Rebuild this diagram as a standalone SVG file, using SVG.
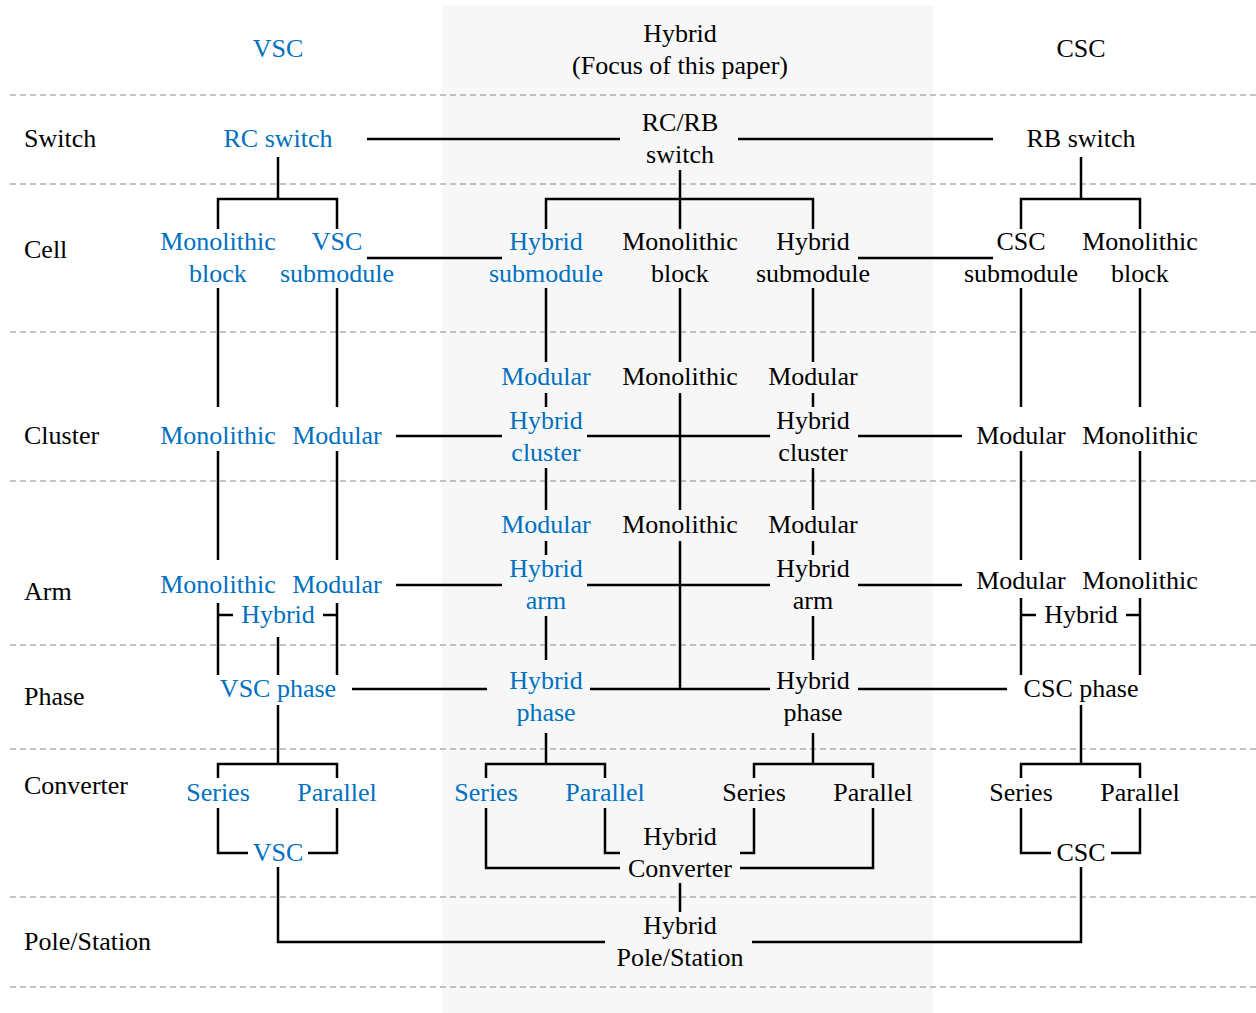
<svg xmlns="http://www.w3.org/2000/svg" width="1256" height="1013" viewBox="0 0 1256 1013">
<style>
text{font-family:"Liberation Serif","Times New Roman",serif;font-size:26px;fill:#000;text-anchor:middle}
text.b{fill:#0070C0}
text.row{text-anchor:start}
.sep{stroke:#888;stroke-width:1.2;stroke-dasharray:6 4;fill:none}
.c{stroke:#000;stroke-width:2.5;fill:none;stroke-linecap:butt}
</style>
<rect x="0" y="0" width="1256" height="1013" fill="#fff"/>
<rect x="442" y="5" width="491" height="1008" fill="#f7f7f7"/>
<g id="separators">
<path class="sep" d="M10,95H1256M10,184H1256M10,332H1256M10,481H1256M10,645H1256M10,749H1256M10,897H1256M10,987H1256"/>
</g>
<g id="headers">
<text class="b" x="278" y="57">VSC</text>
<text x="680" y="42">Hybrid</text>
<text x="680" y="74">(Focus of this paper)</text>
<text x="1081" y="57">CSC</text>
</g>
<g id="row-labels">
<text class="row" x="24" y="147">Switch</text>
<text class="row" x="24" y="258">Cell</text>
<text class="row" x="24" y="444">Cluster</text>
<text class="row" x="24" y="600">Arm</text>
<text class="row" x="24" y="705">Phase</text>
<text class="row" x="24" y="794">Converter</text>
<text class="row" x="24" y="950">Pole/Station</text>
</g>
<g id="connectors">
<path class="c" d="M367,139H620M738,139H993"/>
<path class="c" d="M278,157V199M218,229V199H337V229M367,258H502"/>
<path class="c" d="M680,170V229M546,229V199H813V229M858,258H993"/>
<path class="c" d="M1081,157V199M1021,229V199H1140V229"/>
<path class="c" d="M218,288V407M337,288V407M218,451V560M337,451V560"/>
<path class="c" d="M1021,288V407M1140,288V407M1021,451V560M1140,451V560"/>
<path class="c" d="M396,436H502M587,436H770M858,436H962"/>
<path class="c" d="M546,288V362M546,393V407M546,468V510M546,541V555M546,616V660M546,733V764"/>
<path class="c" d="M813,288V362M813,393V407M813,468V510M813,541V555M813,616V660M813,733V764"/>
<path class="c" d="M680,288V362M680,393V510M680,541V689"/>
<path class="c" d="M396,585H502M587,585H770M858,585H962"/>
<path class="c" d="M218,603V675M337,603V675M218,615H233M323,615H337M278,637V675"/>
<path class="c" d="M1021,598V675M1140,598V675M1021,615H1036M1126,615H1140"/>
<path class="c" d="M352,689H487M590,689H770M858,689H1007"/>
<path class="c" d="M278,705V764M218,778V764H337V778M218,808V853H248M337,808V853H308M278,867V942H605"/>
<path class="c" d="M486,778V764H605V778M486,808V868H620M605,808V853H620"/>
<path class="c" d="M754,778V764H873V778M754,808V853H740M873,808V868H740M680,883V912"/>
<path class="c" d="M1081,705V764M1021,778V764H1140V778M1021,808V853H1051M1140,808V853H1111M1081,867V942H752"/>
</g>
<g id="rc-switch"><text class="b" x="278" y="147">RC switch</text></g>
<g id="rcrb-switch"><text x="680" y="131">RC/RB</text><text x="680" y="163">switch</text></g>
<g id="rb-switch"><text x="1081" y="147">RB switch</text></g>
<g id="vsc-mono-block"><text class="b" x="218" y="250">Monolithic</text><text class="b" x="218" y="282">block</text></g>
<g id="vsc-submodule"><text class="b" x="337" y="250">VSC</text><text class="b" x="337" y="282">submodule</text></g>
<g id="hyb-submodule-b"><text class="b" x="546" y="250">Hybrid</text><text class="b" x="546" y="282">submodule</text></g>
<g id="hyb-mono-block"><text x="680" y="250">Monolithic</text><text x="680" y="282">block</text></g>
<g id="hyb-submodule-k"><text x="813" y="250">Hybrid</text><text x="813" y="282">submodule</text></g>
<g id="csc-submodule"><text x="1021" y="250">CSC</text><text x="1021" y="282">submodule</text></g>
<g id="csc-mono-block"><text x="1140" y="250">Monolithic</text><text x="1140" y="282">block</text></g>
<g id="vsc-cluster-mono"><text class="b" x="218" y="444">Monolithic</text></g>
<g id="vsc-cluster-mod"><text class="b" x="337" y="444">Modular</text></g>
<g id="hyb-cluster-mod-b"><text class="b" x="546" y="385">Modular</text></g>
<g id="hyb-cluster-mono"><text x="680" y="385">Monolithic</text></g>
<g id="hyb-cluster-mod-k"><text x="813" y="385">Modular</text></g>
<g id="hyb-cluster-b"><text class="b" x="546" y="429">Hybrid</text><text class="b" x="546" y="461">cluster</text></g>
<g id="hyb-cluster-k"><text x="813" y="429">Hybrid</text><text x="813" y="461">cluster</text></g>
<g id="csc-cluster-mod"><text x="1021" y="444">Modular</text></g>
<g id="csc-cluster-mono"><text x="1140" y="444">Monolithic</text></g>
<g id="vsc-arm-mono"><text class="b" x="218" y="593">Monolithic</text></g>
<g id="vsc-arm-mod"><text class="b" x="337" y="593">Modular</text></g>
<g id="vsc-arm-hybrid"><text class="b" x="278" y="623">Hybrid</text></g>
<g id="hyb-arm-mod-b"><text class="b" x="546" y="533">Modular</text></g>
<g id="hyb-arm-mono"><text x="680" y="533">Monolithic</text></g>
<g id="hyb-arm-mod-k"><text x="813" y="533">Modular</text></g>
<g id="hyb-arm-b"><text class="b" x="546" y="577">Hybrid</text><text class="b" x="546" y="609">arm</text></g>
<g id="hyb-arm-k"><text x="813" y="577">Hybrid</text><text x="813" y="609">arm</text></g>
<g id="csc-arm-mod"><text x="1021" y="589">Modular</text></g>
<g id="csc-arm-mono"><text x="1140" y="589">Monolithic</text></g>
<g id="csc-arm-hybrid"><text x="1081" y="623">Hybrid</text></g>
<g id="vsc-phase"><text class="b" x="278" y="697">VSC phase</text></g>
<g id="hyb-phase-b"><text class="b" x="546" y="689">Hybrid</text><text class="b" x="546" y="721">phase</text></g>
<g id="hyb-phase-k"><text x="813" y="689">Hybrid</text><text x="813" y="721">phase</text></g>
<g id="csc-phase"><text x="1081" y="697">CSC phase</text></g>
<g id="vsc-series"><text class="b" x="218" y="801">Series</text></g>
<g id="vsc-parallel"><text class="b" x="337" y="801">Parallel</text></g>
<g id="vsc"><text class="b" x="278" y="861">VSC</text></g>
<g id="hyb-series-b"><text class="b" x="486" y="801">Series</text></g>
<g id="hyb-parallel-b"><text class="b" x="605" y="801">Parallel</text></g>
<g id="hyb-series-k"><text x="754" y="801">Series</text></g>
<g id="hyb-parallel-k"><text x="873" y="801">Parallel</text></g>
<g id="hyb-converter"><text x="680" y="845">Hybrid</text><text x="680" y="877">Converter</text></g>
<g id="csc-series"><text x="1021" y="801">Series</text></g>
<g id="csc-parallel"><text x="1140" y="801">Parallel</text></g>
<g id="csc"><text x="1081" y="861">CSC</text></g>
<g id="hyb-pole"><text x="680" y="934">Hybrid</text><text x="680" y="966">Pole/Station</text></g>
</svg>
